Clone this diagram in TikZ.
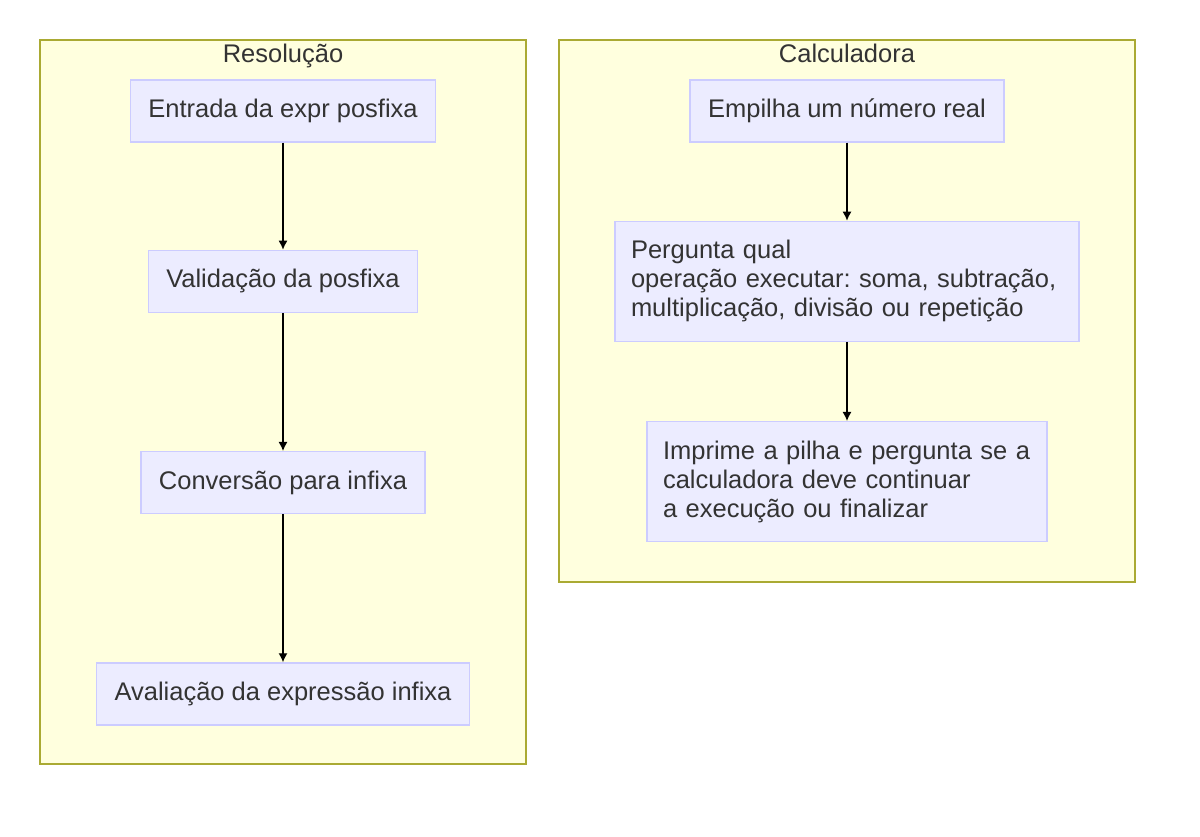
\documentclass[tikz,border=0pt]{standalone}
\usepackage{fontspec}
\setmainfont{Liberation Sans}
\usetikzlibrary{arrows.meta,positioning}

\definecolor{clusterfill}{HTML}{FFFFDE}
\definecolor{clusterline}{HTML}{AAAA33}
\definecolor{boxfill}{HTML}{ECECFF}
\definecolor{boxline}{HTML}{CCCCFF}
\definecolor{txt}{HTML}{333333}

\tikzset{
  cluster/.style={draw=clusterline,fill=clusterfill,line width=1.3pt},
  title/.style={text=txt,anchor=base,inner sep=0pt},
  box/.style={draw=boxline,fill=boxfill,line width=1.3pt,text=txt,
    minimum height=62pt,inner xsep=18pt,inner ysep=0pt},
  bigbox/.style={box,minimum height=120pt,inner xsep=16pt,align=left},
  flow/.style={->,draw=black,line width=1.2pt}
}

\begin{document}
\frenchspacing
\begin{tikzpicture}[x=1pt,y=-1pt,>={Latex[length=9pt,width=9pt]},font=\fontsize{25.5}{29}\selectfont]
  \useasboundingbox (0,0) rectangle (1200,837);

  \draw[cluster] (40,40) rectangle (526,764);
  \draw[cluster] (559,40) rectangle (1135,582);
  \node[title] (tres) at (283,63) {Resolução};
  \node[title] (tcalc) at (847,63) {Calculadora};

  \node[box] (entrada) at (283,111) {Entrada da expr posfixa};
  \node[box] (valida)  [below=107pt of entrada] {Validação da posfixa};
  \node[box] (conv)    [below=138pt of valida]  {Conversão para infixa};
  \node[box] (aval)    [below=148pt of conv]    {Avaliação da expressão infixa};

  \node[box] (empilha) at (847,111) {Empilha um número real};
  \node[bigbox,text width=432pt] (pergunta) [below=78pt of empilha]
    {Pergunta qual\\operação executar: soma, subtração,\\multiplicação, divisão ou repetição};
  \node[bigbox,text width=368pt] (imprime) [below=79pt of pergunta]
    {Imprime a pilha e pergunta se a\\calculadora deve continuar\\a execução ou finalizar};

  \path[flow] (entrada) edge (valida)
              (valida)  edge (conv)
              (conv)    edge (aval)
              (empilha) edge (pergunta)
              (pergunta) edge (imprime);
\end{tikzpicture}
\end{document}
